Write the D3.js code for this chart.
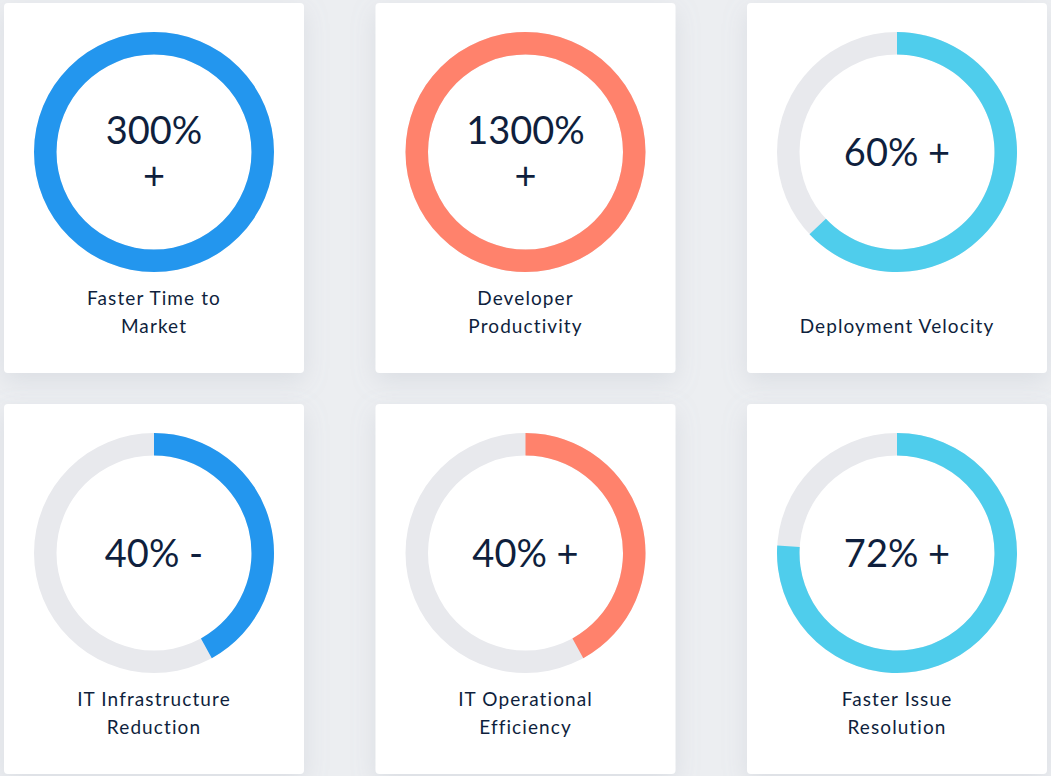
<!DOCTYPE html>
<html>
<head>
<meta charset="utf-8">
<script src="https://cdn.jsdelivr.net/npm/d3@7"></script>
<style>
  html, body { margin: 0; padding: 0; background: #eceef1; }
  svg { display: block; }
</style>
</head>
<body>
<div id="chart"></div>
<script>
// values
const labels = [
  ["Faster Time to", "Market"],
  ["Developer", "Productivity"],
  ["Deployment Velocity"],
  ["IT Infrastructure", "Reduction"],
  ["IT Operational", "Efficiency"],
  ["Faster Issue", "Resolution"]
];
const centerText = [
  ["300%", "+"],
  ["1300%", "+"],
  ["60% +"],
  ["40% -"],
  ["40% +"],
  ["72% +"]
];
// share of the ring that is filled (%)
const fillPct = [100, 100, 63, 42, 42, 76];
const colors = ["#2396ee", "#ff826c", "#4fcdec", "#2396ee", "#ff826c", "#4fcdec"];

const W = 1051, H = 776;
const cardW = 300, cardH = 370;
const ncols = 3;

const svg = d3.select("#chart").append("svg")
    .attr("width", W)
    .attr("height", H);

const defs = svg.append("defs");
const f = defs.append("filter").attr("id", "shadow")
    .attr("x", "-20%").attr("y", "-20%").attr("width", "140%").attr("height", "140%");
f.append("feDropShadow")
    .attr("dx", 0).attr("dy", 8)
    .attr("stdDeviation", 12)
    .attr("flood-color", "#9aa0b0")
    .attr("flood-opacity", 0.22);

svg.append("rect").attr("width", W).attr("height", H).attr("fill", "#eceef1");

const colX = d3.scaleLinear().domain([0, 2]).range([4, 747]);
const rowY = d3.scaleLinear().domain([0, 1]).range([3, 404]);
const angle = d3.scaleLinear().domain([0, 100]).range([0, 2 * Math.PI]);

const outerR = 120, innerR = 97.5;
const arc = d3.arc().innerRadius(innerR).outerRadius(outerR);

labels.forEach((lab, i) => {
  const col = i % ncols, row = Math.floor(i / ncols);
  const g = svg.append("g")
      .attr("transform", `translate(${colX(col)},${rowY(row)})`);

  g.append("rect")
      .attr("width", cardW)
      .attr("height", cardH)
      .attr("rx", 4)
      .attr("fill", "#fff")
      .attr("filter", "url(#shadow)");

  const donut = g.append("g").attr("transform", `translate(${cardW / 2},149)`);

  donut.append("path")
      .attr("d", arc({ startAngle: 0, endAngle: 2 * Math.PI }))
      .attr("fill", "#e8e9ed");

  donut.append("path")
      .attr("d", arc({ startAngle: 0, endAngle: angle(fillPct[i]) }))
      .attr("fill", colors[i]);

  const ct = centerText[i];
  const baseY = ct.length === 1 ? 14 : -8;
  ct.forEach((t, j) => {
    donut.append("text")
        .attr("x", 0)
        .attr("y", baseY + j * 45)
        .attr("text-anchor", "middle")
        .style("font-family", "Lato, 'Noto Sans', sans-serif")
        .style("font-size", "38px")
        .style("fill", "#0f1f3d")
        .text(t);
  });

  // label lines are bottom aligned
  lab.forEach((t, j) => {
    g.append("text")
        .attr("x", cardW / 2)
        .attr("y", 330 - (lab.length - 1 - j) * 28)
        .attr("text-anchor", "middle")
        .style("font-family", "Lato, 'Noto Sans', sans-serif")
        .style("font-size", "19px")
        .style("letter-spacing", "1.1px")
        .style("fill", "#0f1f3d")
        .text(t);
  });
});
</script>
</body>
</html>
